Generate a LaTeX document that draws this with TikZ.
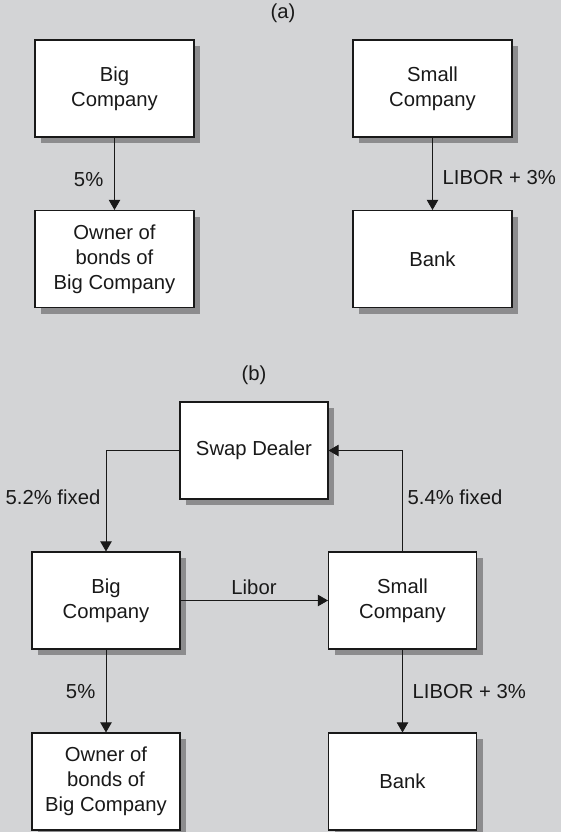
\documentclass[tikz,border=0pt]{standalone}
\usepackage{fontspec}
\setmainfont{Liberation Sans}
\usetikzlibrary{arrows.meta,shadows}
\definecolor{bg}{HTML}{D3D4D6}
\definecolor{shad}{HTML}{8C8C8E}
\begin{document}
\begin{tikzpicture}[x=0.75pt,y=-0.75pt,
  every node/.style={font=\fontsize{15.2}{18.75}\selectfont, text=black!90},
  box/.style={draw=black!90, line width=0.8pt, fill=white, align=center,
    minimum height=72.75pt, inner sep=2pt,
    drop shadow={shadow xshift=4.5pt, shadow yshift=-4.5pt, fill=shad, opacity=1}},
  boxa/.style={box, minimum width=119.25pt},
  boxb/.style={box, minimum width=111pt},
  arr/.style={draw=black!90, line width=0.6pt, -{Triangle[length=7.5pt,width=8.5pt]}}
]
\fill[bg] (0,0) rectangle (561,832);
\useasboundingbox (0,0) rectangle (561,832);

% (a)
\node (la) at (283,13) {(a)};
\node[boxa] (bigA) at (114.5,88.5) {Big\\Company};
\node[boxa] (ownA) at (114.5,259) {Owner of\\bonds of\\Big Company};
\node[boxa] (smallA) at (432.5,88.5) {Small\\Company};
\node[boxa] (bankA) at (432.5,259) {Bank};
\draw[arr] (bigA) -- (ownA);
\draw[arr] (smallA) -- (bankA);
\node[anchor=east] (l1) at (108,180) {5\%};
\node[anchor=west] (l2) at (438,178) {LIBOR + 3\%};

% (b)
\node (lb) at (254,375) {(b)};
\node[boxb] (swap) at (254,450.5) {Swap Dealer};
\node[boxb] (bigB) at (106,600.5) {Big\\Company};
\node[boxb] (smallB) at (402.5,600.5) {Small\\Company};
\node[boxb] (ownB) at (106,781.5) {Owner of\\bonds of\\Big Company};
\node[boxb] (bankB) at (402.5,781.5) {Bank};
\draw[arr] (swap.west) -| (bigB.north);
\draw[arr] (smallB.north) |- (swap.east);
\draw[arr] (bigB) -- (smallB);
\draw[arr] (bigB) -- (ownB);
\draw[arr] (smallB) -- (bankB);
\node (l3) at (53,497) {5.2\% fixed};
\node (l4) at (455,497) {5.4\% fixed};
\node (l5) at (254,587) {Libor};
\node[anchor=east] (l6) at (100,692) {5\%};
\node[anchor=west] (l7) at (408,692) {LIBOR + 3\%};
\end{tikzpicture}
\end{document}
